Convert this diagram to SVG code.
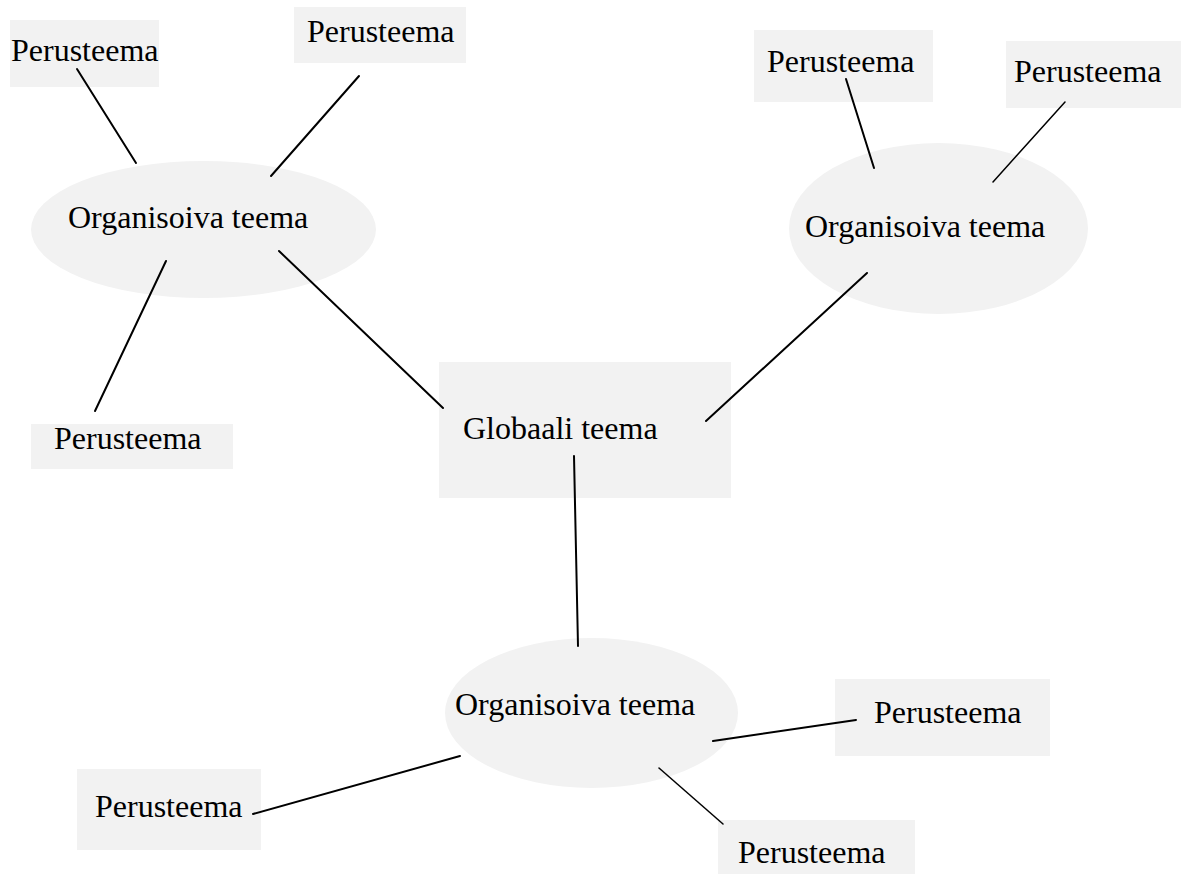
<svg xmlns="http://www.w3.org/2000/svg" width="1181" height="875" viewBox="0 0 1181 875">
<style>
.shape{fill:#f2f2f2;stroke:none}
.lbl{font-family:"Liberation Serif","Times New Roman",serif;font-size:32px;fill:#000}
.edge{stroke:#000;stroke-width:2;fill:none;stroke-linecap:round}
.thin{stroke-width:1.5}
</style>
<rect width="1181" height="875" fill="#fff"/>
<g id="nodes">
<g id="p-tl"><rect class="shape" x="10" y="20" width="149" height="67"/><text class="lbl" x="11" y="61">Perusteema</text></g>
<g id="p-top"><rect class="shape" x="294" y="7" width="172" height="56"/><text class="lbl" x="307" y="42">Perusteema</text></g>
<g id="o-left"><ellipse class="shape" cx="203.5" cy="229.5" rx="172.5" ry="68.5"/><text class="lbl" x="68" y="228">Organisoiva teema</text></g>
<g id="p-left"><rect class="shape" x="31" y="424" width="202" height="45"/><text class="lbl" x="54" y="449">Perusteema</text></g>
<g id="p-rtl"><rect class="shape" x="754" y="30" width="179" height="72"/><text class="lbl" x="767" y="72">Perusteema</text></g>
<g id="p-rtr"><rect class="shape" x="1006" y="41" width="175" height="67"/><text class="lbl" x="1014" y="82">Perusteema</text></g>
<g id="o-right"><ellipse class="shape" cx="938.5" cy="228.5" rx="149.5" ry="85.5"/><text class="lbl" x="805" y="237">Organisoiva teema</text></g>
<g id="global"><rect class="shape" x="439" y="362" width="292" height="136"/><text class="lbl" x="463" y="439">Globaali teema</text></g>
<g id="o-bottom"><ellipse class="shape" cx="591.5" cy="713" rx="146.5" ry="75"/><text class="lbl" x="455" y="715">Organisoiva teema</text></g>
<g id="p-br"><rect class="shape" x="835" y="679" width="215" height="77"/><text class="lbl" x="874" y="723">Perusteema</text></g>
<g id="p-bl"><rect class="shape" x="77" y="769" width="184" height="81"/><text class="lbl" x="95" y="817">Perusteema</text></g>
<g id="p-bb"><rect class="shape" x="718" y="820" width="197" height="54"/><text class="lbl" x="738" y="863">Perusteema</text></g>
</g>
<g id="connectors">
<line class="edge" x1="77" y1="69" x2="136" y2="163"/>
<line class="edge" x1="359" y1="76" x2="271" y2="176"/>
<line class="edge" x1="166" y1="261" x2="95" y2="411"/>
<line class="edge" x1="279" y1="251" x2="443" y2="408"/>
<line class="edge" x1="846" y1="79" x2="874" y2="168"/>
<line class="edge thin" x1="1065" y1="102" x2="993" y2="182"/>
<line class="edge" x1="867" y1="273" x2="706" y2="421"/>
<line class="edge" x1="574" y1="456" x2="578" y2="646"/>
<line class="edge" x1="713" y1="741" x2="856" y2="720"/>
<line class="edge thin" x1="659" y1="768" x2="723" y2="824"/>
<line class="edge" x1="460" y1="756" x2="253" y2="814"/>
</g>
</svg>
